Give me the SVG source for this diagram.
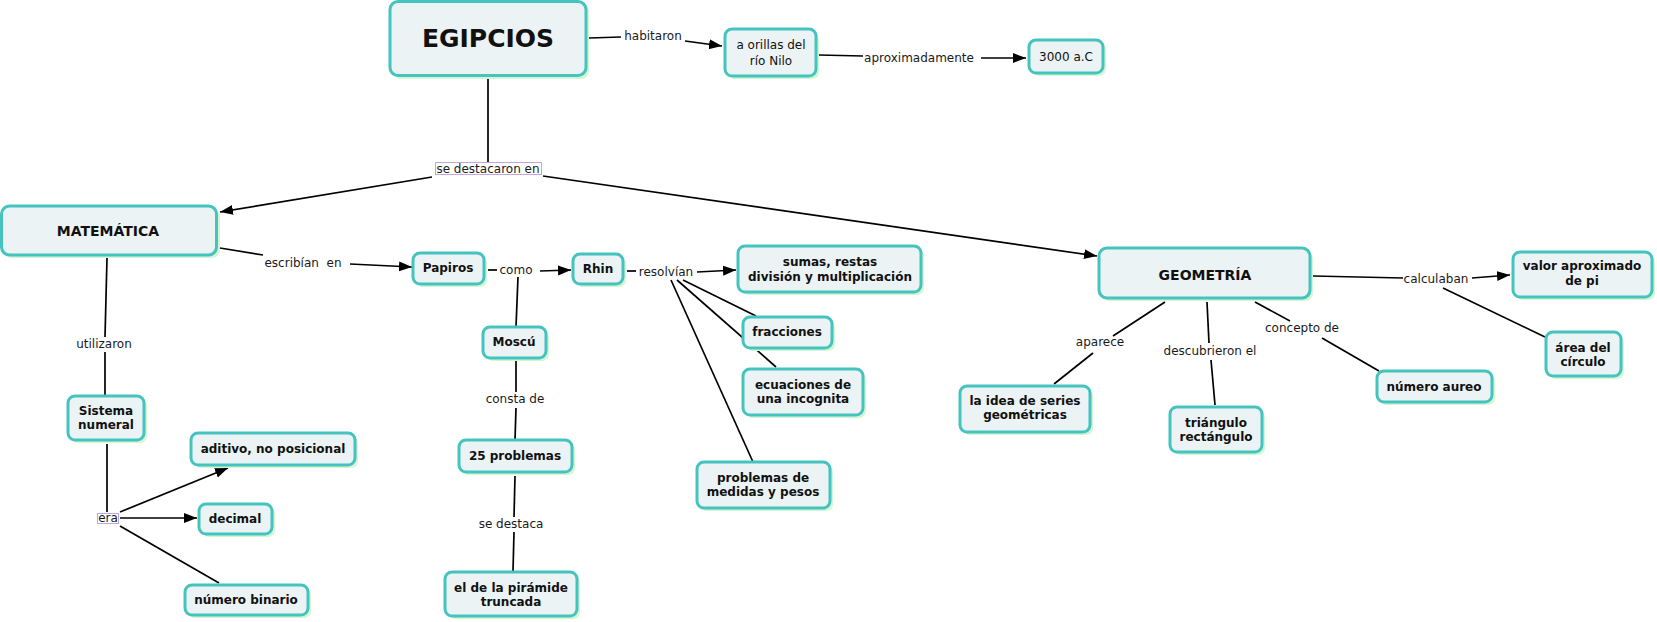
<svg xmlns="http://www.w3.org/2000/svg" width="1657" height="622" viewBox="0 0 1657 622">
<style>
.bg{fill:#ffffff}
.sh{fill:#d3f7d3}
.nd{fill:#ecf3f4;stroke:#44c3bf;stroke-width:3}
.t{font-family:"DejaVu Sans","Verdana",sans-serif;font-weight:bold;font-size:12px;fill:#111;text-anchor:middle}
.tn{font-family:"DejaVu Sans","Verdana",sans-serif;font-size:12px;fill:#111;text-anchor:middle}
.lb{font-family:"DejaVu Sans","Verdana",sans-serif;font-size:12px;fill:#1a1a1a;text-anchor:middle}
.lbox{fill:#ffffff;stroke:#c3a5dc;stroke-width:1}
.c line{stroke:#000;stroke-width:1.7;fill:none}
.c .a{marker-end:url(#arr)}
</style>
<defs>
<marker id="arr" markerUnits="userSpaceOnUse" markerWidth="14" markerHeight="11" refX="13" refY="5" orient="auto">
<path d="M0,0 L13,5 L0,10 z" fill="#000"/>
</marker>
</defs>
<rect class="bg" x="0" y="0" width="1657" height="622"/>

<g id="connectors" class="c">
<line x1="589" y1="38" x2="621" y2="37"/>
<line class="a" x1="685" y1="41" x2="722" y2="46"/>
<line x1="819" y1="55" x2="863" y2="56"/>
<line class="a" x1="981" y1="58" x2="1026" y2="58"/>
<line x1="488" y1="78" x2="488" y2="162"/>
<line class="a" x1="432" y1="177" x2="220" y2="212"/>
<line class="a" x1="543" y1="176" x2="1097" y2="256"/>
<line x1="220" y1="248" x2="263" y2="255"/>
<line class="a" x1="350" y1="264" x2="412" y2="267"/>
<line x1="488" y1="270" x2="497" y2="270"/>
<line class="a" x1="540" y1="271" x2="571" y2="270"/>
<line x1="518" y1="277" x2="516" y2="327"/>
<line x1="627" y1="271" x2="636" y2="271"/>
<line class="a" x1="697" y1="272" x2="736" y2="270"/>
<line x1="683" y1="280" x2="756" y2="316"/>
<line x1="677" y1="280" x2="776" y2="367"/>
<line x1="671" y1="280" x2="753" y2="462"/>
<line x1="516" y1="361" x2="516" y2="392"/>
<line x1="516" y1="408" x2="515" y2="440"/>
<line x1="515" y1="476" x2="514" y2="517"/>
<line x1="514" y1="532" x2="513" y2="571"/>
<line x1="107" y1="258" x2="105" y2="337"/>
<line x1="105" y1="352" x2="105" y2="395"/>
<line x1="107" y1="444" x2="107" y2="512"/>
<line class="a" x1="120" y1="512" x2="228" y2="468"/>
<line class="a" x1="120" y1="518" x2="197" y2="518"/>
<line x1="120" y1="526" x2="219" y2="583"/>
<line x1="1313" y1="276" x2="1403" y2="278"/>
<line class="a" x1="1472" y1="278" x2="1510" y2="275"/>
<line x1="1443" y1="288" x2="1545" y2="337"/>
<line x1="1165" y1="302" x2="1113" y2="336"/>
<line x1="1093" y1="353" x2="1054" y2="384"/>
<line x1="1207" y1="302" x2="1209" y2="343"/>
<line x1="1211" y1="360" x2="1215" y2="405"/>
<line x1="1255" y1="302" x2="1290" y2="321"/>
<line x1="1322" y1="338" x2="1379" y2="371"/>
</g>

<g id="labels">
<text class="lb" x="653" y="40">habitaron</text>
<text class="lb" x="919" y="62">aproximadamente</text>
<rect class="lbox" x="435.5" y="162.5" width="106" height="12"/>
<text class="lb" x="488" y="172.5">se destacaron en</text>
<text class="lb" x="303" y="267" xml:space="preserve">escribían  en</text>
<text class="lb" x="516" y="274">como</text>
<text class="lb" x="666" y="276">resolvían</text>
<text class="lb" x="515" y="403">consta de</text>
<text class="lb" x="511" y="528">se destaca</text>
<text class="lb" x="104" y="348">utilizaron</text>
<rect class="lbox" x="97.5" y="513.5" width="21" height="10"/>
<text class="lb" x="108" y="522">era</text>
<text class="lb" x="1100" y="346">aparece</text>
<text class="lb" x="1210" y="355">descubrieron el</text>
<text class="lb" x="1302" y="332">concepto de</text>
<text class="lb" x="1436" y="283">calculaban</text>
</g>

<g id="egipcios">
<rect class="sh" x="393" y="4" width="196" height="75" rx="8"/>
<rect class="nd" x="390" y="1.5" width="196" height="74" rx="8"/>
<text class="t" x="488" y="47" style="font-size:25px">EGIPCIOS</text>
</g>
<g id="orillas">
<rect class="sh" x="728" y="32" width="91" height="47" rx="7"/>
<rect class="nd" x="725" y="29" width="91" height="47" rx="7"/>
<text class="tn" x="771" y="49">a orillas del</text>
<text class="tn" x="771" y="65">río Nilo</text>
</g>
<g id="n3000">
<rect class="sh" x="1032" y="43" width="74" height="33" rx="7"/>
<rect class="nd" x="1029" y="40" width="74" height="33" rx="7"/>
<text class="tn" x="1066" y="61">3000 a.C</text>
</g>
<g id="matematica">
<rect class="sh" x="4" y="209" width="216" height="49" rx="8"/>
<rect class="nd" x="1.5" y="206" width="215" height="49" rx="8"/>
<text class="t" x="108" y="236" style="font-size:14px">MATEMÁTICA</text>
</g>
<g id="geometria">
<rect class="sh" x="1102" y="251" width="211" height="50" rx="8"/>
<rect class="nd" x="1099" y="248" width="211" height="50" rx="8"/>
<text class="t" x="1205" y="280" style="font-size:14px">GEOMETRÍA</text>
</g>
<g id="papiros">
<rect class="sh" x="416" y="256" width="71" height="31" rx="7"/>
<rect class="nd" x="413" y="253" width="71" height="31" rx="7"/>
<text class="t" x="448" y="272">Papiros</text>
</g>
<g id="rhin">
<rect class="sh" x="576" y="257" width="50" height="30" rx="7"/>
<rect class="nd" x="573" y="254" width="50" height="30" rx="7"/>
<text class="t" x="598" y="273">Rhin</text>
</g>
<g id="sumas">
<rect class="sh" x="741" y="249" width="183" height="46" rx="7"/>
<rect class="nd" x="738" y="246" width="183" height="46" rx="7"/>
<text class="t" x="830" y="266">sumas, restas</text>
<text class="t" x="830" y="281">división y multiplicación</text>
</g>
<g id="fracciones">
<rect class="sh" x="746" y="320" width="89" height="31" rx="7"/>
<rect class="nd" x="743" y="317" width="89" height="31" rx="7"/>
<text class="t" x="787" y="336">fracciones</text>
</g>
<g id="ecuaciones">
<rect class="sh" x="746" y="372" width="120" height="46" rx="7"/>
<rect class="nd" x="743" y="369" width="120" height="46" rx="7"/>
<text class="t" x="803" y="389">ecuaciones de</text>
<text class="t" x="803" y="403">una incognita</text>
</g>
<g id="medidas">
<rect class="sh" x="700" y="465" width="133" height="46" rx="7"/>
<rect class="nd" x="697" y="462" width="133" height="46" rx="7"/>
<text class="t" x="763" y="482">problemas de</text>
<text class="t" x="763" y="496">medidas y pesos</text>
</g>
<g id="moscu">
<rect class="sh" x="486" y="330" width="63" height="31" rx="7"/>
<rect class="nd" x="483" y="327" width="63" height="31" rx="7"/>
<text class="t" x="514" y="346">Moscú</text>
</g>
<g id="problemas25">
<rect class="sh" x="462" y="443" width="113" height="32" rx="7"/>
<rect class="nd" x="459" y="440" width="113" height="32" rx="7"/>
<text class="t" x="515" y="460">25 problemas</text>
</g>
<g id="piramide">
<rect class="sh" x="448" y="575" width="132" height="44" rx="7"/>
<rect class="nd" x="445" y="572" width="132" height="44" rx="7"/>
<text class="t" x="511" y="592">el de la pirámide</text>
<text class="t" x="511" y="606">truncada</text>
</g>
<g id="sistema">
<rect class="sh" x="71" y="399" width="76" height="44" rx="7"/>
<rect class="nd" x="68" y="396" width="76" height="44" rx="7"/>
<text class="t" x="106" y="415">Sistema</text>
<text class="t" x="106" y="429">numeral</text>
</g>
<g id="aditivo">
<rect class="sh" x="194" y="436" width="164" height="32" rx="7"/>
<rect class="nd" x="191" y="433" width="164" height="32" rx="7"/>
<text class="t" x="273" y="453">aditivo, no posicional</text>
</g>
<g id="decimal">
<rect class="sh" x="202" y="507" width="73" height="30" rx="7"/>
<rect class="nd" x="199" y="504" width="73" height="30" rx="7"/>
<text class="t" x="235" y="523">decimal</text>
</g>
<g id="binario">
<rect class="sh" x="188" y="588" width="123" height="30" rx="7"/>
<rect class="nd" x="185" y="585" width="123" height="30" rx="7"/>
<text class="t" x="246" y="604">número binario</text>
</g>
<g id="series">
<rect class="sh" x="963" y="389" width="130" height="46" rx="7"/>
<rect class="nd" x="960" y="386" width="130" height="46" rx="7"/>
<text class="t" x="1025" y="405">la idea de series</text>
<text class="t" x="1025" y="419">geométricas</text>
</g>
<g id="triangulo">
<rect class="sh" x="1173" y="410" width="92" height="45" rx="7"/>
<rect class="nd" x="1170" y="407" width="92" height="45" rx="7"/>
<text class="t" x="1216" y="427">triángulo</text>
<text class="t" x="1216" y="441">rectángulo</text>
</g>
<g id="aureo">
<rect class="sh" x="1380" y="374" width="115" height="31" rx="7"/>
<rect class="nd" x="1377" y="371" width="115" height="31" rx="7"/>
<text class="t" x="1434" y="391">número aureo</text>
</g>
<g id="valorpi">
<rect class="sh" x="1516" y="255" width="139" height="45" rx="7"/>
<rect class="nd" x="1513" y="252" width="139" height="45" rx="7"/>
<text class="t" x="1582" y="270">valor aproximado</text>
<text class="t" x="1582" y="285">de pi</text>
</g>
<g id="area">
<rect class="sh" x="1549" y="335" width="75" height="44" rx="7"/>
<rect class="nd" x="1546" y="332" width="75" height="44" rx="7"/>
<text class="t" x="1583" y="352">área del</text>
<text class="t" x="1583" y="366">círculo</text>
</g>
</svg>
